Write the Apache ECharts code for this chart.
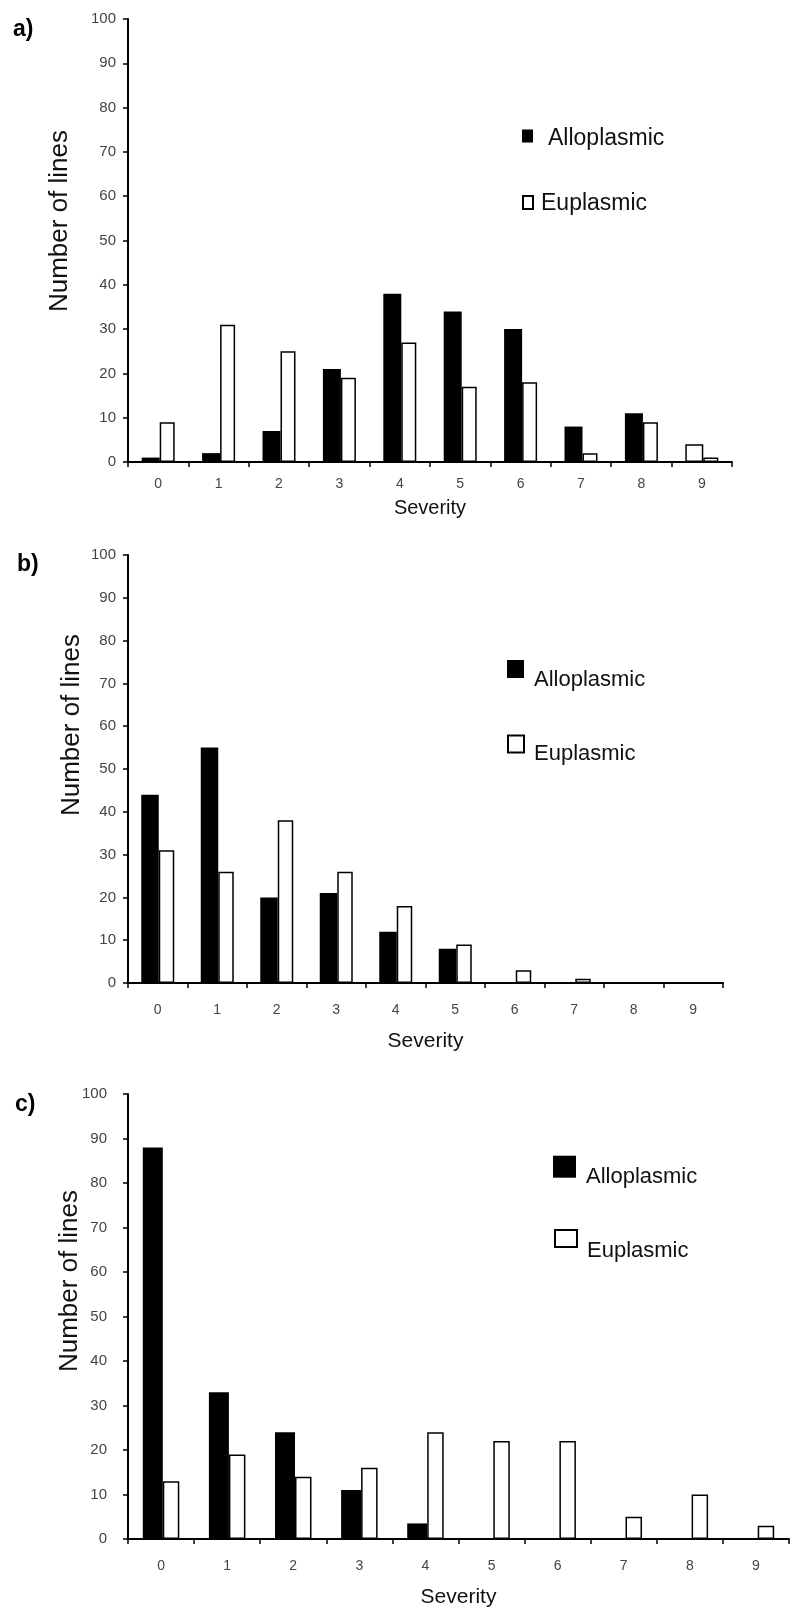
<!DOCTYPE html>
<html><head><meta charset="utf-8">
<script src="https://cdn.jsdelivr.net/npm/echarts@6/dist/echarts.min.js"></script>
<style>html,body{margin:0;padding:0;background:#fff}#chart{width:790px;height:1612px}</style>
</head><body><div id="chart"></div>
<script>
// ---- data ----
const severity = ['0','1','2','3','4','5','6','7','8','9'];
const seriesNames = ['Alloplasmic','Euplasmic'];
const panelLabels = ['a)','b)','c)'];
const xTitle = 'Severity';
const yTitle = 'Number of lines';
const alloA = [1, 2, 7, 21, 38, 34, 30, 8, 11, 4];
const euA   = [9, 31, 25, 19, 27, 17, 18, 2, 9, 1];
const alloAOpenIdx = [9];           // drawn unfilled in the original
const alloB = [44, 55, 20, 21, 12, 8, 0, 0, 0, 0];
const euB   = [31, 26, 38, 26, 18, 9, 3, 1, 0, 0];
const alloC = [88, 33, 24, 11, 3.5, 0, 0, 0, 0, 0];
const euC   = [13, 19, 14, 16, 24, 22, 22, 5, 10, 3];
const yMin = 0, yMax = 100, yStep = 10;

// ---- layout ----
const FF = '"Liberation Sans", Arial, sans-serif';
const panels = [
  {allo: alloA, eu: euA, open: alloAOpenIdx, grid:{left:128, top:19, width:604, height:443},
   bw:[18,15], yLabMargin:12, xLabMargin:15, xNameGap:36, xNameSize:20, yName:{x:60, y:221},
   label:{left:13, top:18}, leg:[{left:522, top:122, iw:11, ih:13, fs:23, pl:10, lh:5},{left:522, top:189.5, iw:10, ih:13, fs:23, pl:3, lh:3}]},
  {allo: alloB, eu: euB, open: [], grid:{left:128, top:555, width:595, height:428},
   bw:[17.5,15.5], yLabMargin:12, xLabMargin:20, xNameGap:48, xNameSize:21, yName:{x:72, y:725},
   label:{left:17, top:553}, leg:[{left:507, top:647, iw:17, ih:18, fs:22, pl:5, lh:22},{left:507, top:723, iw:16, ih:17, fs:22, pl:5, lh:20}]},
  {allo: alloC, eu: euC, open: [], grid:{left:128, top:1094, width:661, height:445},
   bw:[20,16.5], yLabMargin:21, xLabMargin:20, xNameGap:48, xNameSize:21, yName:{x:69.5, y:1281},
   label:{left:15, top:1093}, leg:[{left:553, top:1145, iw:23, ih:22, fs:22, pl:5, lh:21.4},{left:554, top:1214, iw:22, ih:17, fs:22, pl:5, lh:24.6}]}
];

const option = {animation:false, backgroundColor:'#fff', grid:[], xAxis:[], yAxis:[], series:[], legend:[], title:[], graphic:[]};
panels.forEach((p, k) => {
  option.grid.push(Object.assign({containLabel:false, outerBoundsMode:'none'}, p.grid));
  option.xAxis.push({
    type:'category', gridIndex:k, data:severity, boundaryGap:true,
    name:xTitle, nameLocation:'middle', nameGap:p.xNameGap,
    nameTextStyle:{fontFamily:FF, fontSize:p.xNameSize, color:'#111'},
    axisLine:{lineStyle:{color:'#000', width:2}},
    axisTick:{show:true, length:5, interval:0, lineStyle:{color:'#000', width:1.5}},
    axisLabel:{fontFamily:FF, fontSize:14, color:'#444', margin:p.xLabMargin, interval:0},
    splitLine:{show:false}
  });
  option.yAxis.push({
    type:'value', gridIndex:k, min:yMin, max:yMax, interval:yStep,
    axisLine:{show:true, lineStyle:{color:'#000', width:2}},
    axisTick:{show:true, length:5, lineStyle:{color:'#000', width:1.5}},
    axisLabel:{fontFamily:FF, fontSize:15, color:'#444', margin:p.yLabMargin},
    splitLine:{show:false}
  });
  option.graphic.push({
    type:'text', x:p.yName.x, y:p.yName.y, rotation:Math.PI/2,
    style:{text:yTitle, font:'26px ' + FF, fill:'#111',
      align:'center', verticalAlign:'middle', textAlign:'center', textVerticalAlign:'middle'}
  });
  const alloData = p.allo.map((v, i) => p.open.includes(i)
    ? {value:v, itemStyle:{color:'#fff', borderColor:'#000', borderWidth:1.5}} : v);
  option.series.push({
    type:'bar', name:seriesNames[0], xAxisIndex:k, yAxisIndex:k, data:alloData,
    barWidth:p.bw[0], barGap:'0%', itemStyle:{color:'#000'}
  });
  option.series.push({
    type:'bar', name:seriesNames[1], xAxisIndex:k, yAxisIndex:k, data:p.eu,
    barWidth:p.bw[1], barGap:'0%', itemStyle:{color:'#fff', borderColor:'#000', borderWidth:1.5}
  });
  p.leg.forEach((L, j) => {
    option.legend.push({
      data:[seriesNames[j]], left:L.left, top:L.top, orient:'vertical', padding:0,
      itemWidth:L.iw, itemHeight:L.ih, icon:'rect', selectedMode:false,
      formatter: name => '\n' + name,
      textStyle:{fontFamily:FF, fontSize:L.fs, color:'#111', lineHeight:L.lh, padding:[0,0,0,L.pl]}
    });
  });
  option.title.push({text:panelLabels[k], left:p.label.left, top:p.label.top, padding:0,
    textStyle:{fontFamily:FF, fontSize:23, fontWeight:'bold', color:'#000'}});
});

const chart = echarts.init(document.getElementById('chart'), null, {renderer:'canvas'});
chart.setOption(option);
</script></body></html>
